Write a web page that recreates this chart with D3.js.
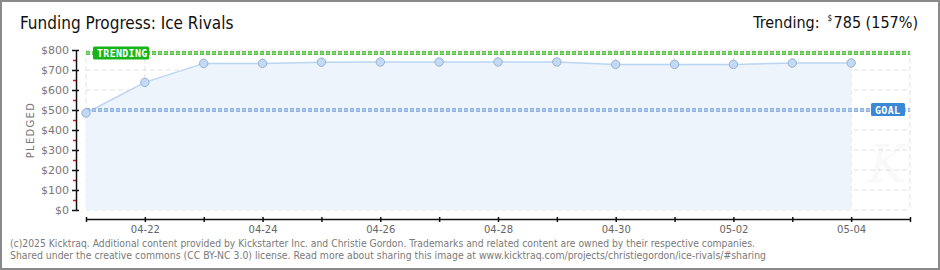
<!DOCTYPE html>
<html>
<head>
<meta charset="utf-8">
<title>Funding Progress: Ice Rivals</title>
<script src="https://cdnjs.cloudflare.com/ajax/libs/d3/7.8.5/d3.min.js"></script>
<style>
  html, body { margin: 0; padding: 0; background: #fff; }
  svg { display: block; }
  .ttl { font-family: "Liberation Sans Narrow", "DejaVu Sans Condensed", sans-serif; fill: #111; }
  .ax text { font-family: "DejaVu Sans", sans-serif; }
  .foot { font-family: "DejaVu Sans", sans-serif; font-size: 10px; fill: #7a7a7a; }
</style>
</head>
<body>
<svg id="svg" width="940" height="270"></svg>
<script>
// data
const dates = ['2025-04-21', '2025-04-22', '2025-04-23', '2025-04-24', '2025-04-25', '2025-04-26', '2025-04-27',
  '2025-04-28', '2025-04-29', '2025-04-30', '2025-05-01', '2025-05-02', '2025-05-03', '2025-05-04'];
const pledged = [485, 638, 733, 733, 739, 740, 740, 740, 740, 728, 728, 728, 735, 735];
const yTicks = [0, 100, 200, 300, 400, 500, 600, 700, 800];
const goal = 500;
const trending = 785;
const xDomain = ['2025-04-21', '2025-05-05'];

const parse = d3.timeParse('%Y-%m-%d');
const pts = dates.map((d, i) => ({ date: parse(d), value: pledged[i] }));

const svg = d3.select('#svg');
const W = 940, H = 270;

// frame
svg.append('rect').attr('x', 1).attr('y', 1).attr('width', W - 2).attr('height', H - 2)
  .attr('fill', '#fff').attr('stroke', '#8a8a8a').attr('stroke-width', 2);

const x = d3.scaleTime().domain(xDomain.map(parse)).range([86, 910]);
const y = d3.scaleLinear().domain([0, 800]).range([210, 50]);

// grid
const days = d3.timeDay.range(x.domain()[0], d3.timeDay.offset(x.domain()[1], 1));
svg.append('g').selectAll('line').data(days).join('line')
  .attr('x1', d => x(d)).attr('x2', d => x(d)).attr('y1', y(800)).attr('y2', y(0))
  .attr('stroke', '#e2e2e2').attr('stroke-dasharray', '5,3');
svg.append('g').selectAll('line').data(yTicks).join('line')
  .attr('x1', x.range()[0]).attr('x2', x.range()[1]).attr('y1', d => y(d)).attr('y2', d => y(d))
  .attr('stroke', '#e2e2e2').attr('stroke-dasharray', '5,3');

// faint watermark
svg.append('text').attr('x', 868).attr('y', 182).attr('font-family', 'DejaVu Serif, serif')
  .attr('font-style', 'italic').attr('font-size', 52).attr('fill', '#000').attr('opacity', 0.02).text('K');

// area + line
svg.append('path').datum(pts)
  .attr('d', d3.area().x(d => x(d.date)).y0(y(0)).y1(d => y(d.value)))
  .attr('fill', '#edf4fc');
svg.append('path').datum(pts)
  .attr('d', d3.line().x(d => x(d.date)).y(d => y(d.value)))
  .attr('fill', 'none').attr('stroke', '#b9d5f2').attr('stroke-width', 1.5);

// goal and trending lines
function refLine(v, fill, edge) {
  svg.append('line').attr('x1', x.range()[0]).attr('x2', x.range()[1])
    .attr('y1', y(v)).attr('y2', y(v))
    .attr('stroke', edge).attr('stroke-width', 4).attr('stroke-dasharray', '4,2');
  svg.append('line').attr('x1', x.range()[0] + 0.5).attr('x2', x.range()[1])
    .attr('y1', y(v)).attr('y2', y(v))
    .attr('stroke', fill).attr('stroke-width', 2).attr('stroke-dasharray', '3,3');
}
refLine(goal, '#a9c8ec', '#8fb3e0');
refLine(trending, '#7ddc6a', '#5cc04a');

// points
svg.append('g').selectAll('circle').data(pts).join('circle')
  .attr('cx', d => x(d.date)).attr('cy', d => y(d.value)).attr('r', 4.2)
  .attr('fill', '#c2daf5').attr('stroke', '#98b2cf').attr('stroke-width', 1);

// labels on ref lines
function tag(x0, yc, w, label, color) {
  const g = svg.append('g');
  g.append('rect').attr('x', x0).attr('y', yc - 6.5).attr('width', w).attr('height', 13)
    .attr('rx', 1.5).attr('fill', color);
  g.append('text').attr('x', x0 + 4).attr('y', yc + 4)
    .attr('font-family', 'DejaVu Sans Mono, monospace').attr('font-size', 10).attr('font-weight', 'bold')
    .attr('fill', '#fff').attr('letter-spacing', 0.3).text(label);
}
tag(93, y(trending), 56, 'TRENDING', '#16b416');
tag(871, y(goal) - 0.5, 34, 'GOAL', '#3a87d6');

// y axis
const yAxis = svg.append('g').attr('class', 'ax').attr('transform', 'translate(76,0)')
  .call(d3.axisLeft(y).tickValues(yTicks).tickSize(4).tickFormat(d => '$' + d));
yAxis.select('.domain').attr('stroke', '#111').attr('stroke-width', 1.5).attr('d', `M0.5,${y(800)}V${y(0) + 0.5}`);
yAxis.selectAll('.tick line').attr('stroke', '#111').attr('stroke-width', 1.5).attr('x1', 3);
yAxis.selectAll('.tick text').attr('fill', '#777').attr('font-size', 11).attr('x', -7);
const yMinor = svg.append('g').attr('transform', 'translate(76,0)')
  .call(d3.axisLeft(y).tickValues(yTicks.slice(0, -1).map(d => d + 50)).tickSize(3).tickFormat(''));
yMinor.select('.domain').remove();
yMinor.selectAll('.tick line').attr('stroke', '#e01010').attr('stroke-width', 1.5);

svg.append('text').attr('transform', 'translate(34,130) rotate(-90)')
  .attr('text-anchor', 'middle').attr('font-family', 'DejaVu Sans, sans-serif')
  .attr('font-size', 10).attr('letter-spacing', 1.3).attr('fill', '#777').text('PLEDGED');

// x axis
const xAxis = svg.append('g').attr('class', 'ax').attr('transform', 'translate(0,219)')
  .call(d3.axisBottom(x).ticks(d3.timeDay.every(1)).tickSize(3)
    .tickFormat(d => (d3.timeDay.count(x.domain()[0], d) % 2 === 1 ? d3.timeFormat('%m-%d')(d) : '')));
xAxis.select('.domain').attr('stroke', '#111').attr('stroke-width', 1.5).attr('d', `M${x.range()[0]},0.5H${x.range()[1]}`);
xAxis.selectAll('.tick line').attr('stroke', '#111').attr('stroke-width', 1.5).attr('y1', -2);
xAxis.selectAll('.tick text').attr('fill', '#666').attr('font-size', 10).attr('y', 7);

// titles
svg.append('text').attr('class', 'ttl').attr('x', 20).attr('y', 29).attr('font-size', 17)
  .text('Funding Progress: Ice Rivals');
// trending readout, laid out right to left from measured widths
const amt = svg.append('text').attr('class', 'ttl').attr('x', 918).attr('y', 28).attr('font-size', 16)
  .attr('text-anchor', 'end').text(trending + ' (' + Math.round(trending / goal * 100) + '%)');
const amtLeft = 918 - amt.node().getComputedTextLength();
const dol = svg.append('text').attr('class', 'ttl').attr('x', amtLeft - 1.5).attr('y', 21).attr('font-size', 8)
  .attr('text-anchor', 'end').text('$');
const dolLeft = amtLeft - 1.5 - dol.node().getComputedTextLength();
svg.append('text').attr('class', 'ttl').attr('x', dolLeft - 8).attr('y', 28).attr('font-size', 16)
  .attr('text-anchor', 'end').text('Trending:');

// footer
svg.append('text').attr('class', 'foot').attr('x', 10).attr('y', 247)
  .attr('textLength', 745).attr('lengthAdjust', 'spacingAndGlyphs')
  .text('(c)2025 Kicktraq. Additional content provided by Kickstarter Inc. and Christie Gordon. Trademarks and related content are owned by their respective companies.');
svg.append('text').attr('class', 'foot').attr('x', 10).attr('y', 259)
  .attr('textLength', 756).attr('lengthAdjust', 'spacingAndGlyphs')
  .text('Shared under the creative commons (CC BY-NC 3.0) license. Read more about sharing this image at www.kicktraq.com/projects/christiegordon/ice-rivals/#sharing');
</script>
</body>
</html>
